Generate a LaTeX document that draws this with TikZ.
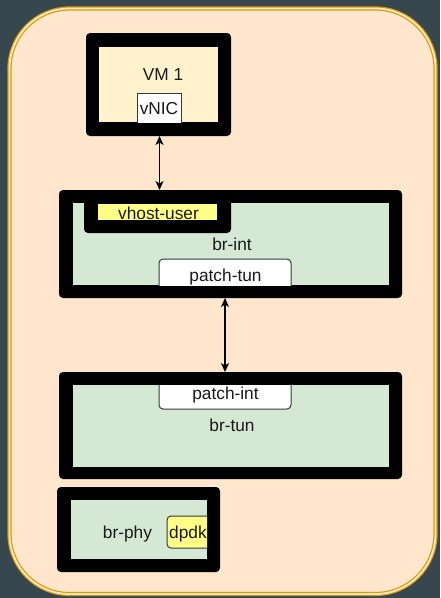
\documentclass[tikz,border=0pt]{standalone}
\usepackage{fontspec}
\setmainfont{Liberation Sans}
\usetikzlibrary{arrows.meta}
\definecolor{bgslate}{HTML}{37474F}
\definecolor{outerfill}{HTML}{FFE6CC}
\definecolor{outerline}{HTML}{D79B00}
\definecolor{vmfill}{HTML}{FFF2CC}
\definecolor{brfill}{HTML}{D5E8D4}
\definecolor{portyellow}{HTML}{FFFF88}
\definecolor{txt}{HTML}{1A1A1A}
\definecolor{portline}{HTML}{36393D}
\begin{document}
\begin{tikzpicture}[x=1pt,y=-1pt,
  font=\fontsize{17.3}{20}\selectfont, text=txt,
  frame/.style={fill=black, rounded corners=4pt, anchor=north west, inner sep=0pt, outer sep=0pt},
  innerarea/.style={anchor=north west, inner sep=0pt, outer sep=0pt},
  port/.style={draw=portline, line width=1pt, rounded corners=4pt, inner sep=0pt, outer sep=0pt, anchor=north west},
  lbl/.style={inner sep=0pt},
  conn/.style={line width=1.2pt, draw=black, {Stealth[length=9pt,width=8pt,inset=2.5pt]}-{Stealth[length=9pt,width=8pt,inset=2.5pt]}}
]
\useasboundingbox (0,0) rectangle (440,598);
\fill[bgslate] (0,0) rectangle (440,598);
\draw[outerline, line width=1.2pt, double=outerfill, double distance=1.8pt, fill=outerfill, rounded corners=60pt] (9.5,8.5) rectangle (435.5,594);

% VM 1
\node[frame, minimum width=145pt, minimum height=103pt] (vm) at (86,33) {};
\node[innerarea, fill=vmfill, minimum width=119pt, minimum height=75pt] (vmin) at (99,47) {};
\node[lbl] (vmlabel) at (163,75) {VM 1};
\begin{scope}
\clip (vmin.north west) rectangle (vmin.south east);
\node[draw=portline, fill=white, line width=1pt, inner sep=0pt, anchor=north west, minimum width=44pt, minimum height=32pt] (vnic) at (137,93) {};
\node[lbl] (vniclabel) at (159,108.5) {vNIC};
\end{scope}

% br-int
\node[frame, minimum width=343pt, minimum height=108pt] (brint) at (59,190) {};
\node[innerarea, fill=brfill, minimum width=316pt, minimum height=82pt] (brintin) at (73,203) {};
\begin{scope}
\clip (brintin.north west) rectangle (brintin.south east);
\node[frame, minimum width=147pt, minimum height=40pt] (vhostframe) at (84,193) {};
\node[innerarea, fill=portyellow, minimum width=119pt, minimum height=16pt] (vhost) at (98,204) {};
\node[lbl] (vhostlabel) at (158.5,213) {vhost-user};
\node[lbl] (brintlabel) at (232,244.5) {br-int};
\node[port, fill=white, minimum width=132pt, minimum height=36pt] (ptun) at (159,259) {};
\node[lbl] (ptunlabel) at (225.5,277) {patch-tun};
\end{scope}

% br-tun
\node[frame, minimum width=343pt, minimum height=107pt] (brtun) at (59,372) {};
\node[innerarea, fill=brfill, minimum width=316pt, minimum height=82pt] (brtunin) at (73,385) {};
\begin{scope}
\clip (brtunin.north west) rectangle (brtunin.south east);
\node[port, fill=white, minimum width=132pt, minimum height=38pt] (pint) at (159,371) {};
\node[lbl] (pintlabel) at (225.5,395.5) {patch-int};
\node[lbl] (brtunlabel) at (232,425.5) {br-tun};
\end{scope}

% br-phy
\node[frame, minimum width=163pt, minimum height=85pt] (brphy) at (57,487) {};
\node[innerarea, fill=brfill, minimum width=136pt, minimum height=59pt] (brphyin) at (71,500) {};
\begin{scope}
\clip (brphyin.north west) rectangle (brphyin.south east);
\node[lbl] (brphylabel) at (127.5,534) {br-phy};
\node[port, fill=portyellow, minimum width=50pt, minimum height=32pt] (dpdk) at (167,516) {};
\node[lbl, anchor=west] (dpdklabel) at (169,534) {dpdk};
\end{scope}

% connectors
\draw[conn] (vm.south -| vnic.south) -- (brint.north -| vnic.south);
\draw[conn] (brint.south -| ptun.south) -- (brtun.north -| ptun.south);
\end{tikzpicture}
\end{document}
